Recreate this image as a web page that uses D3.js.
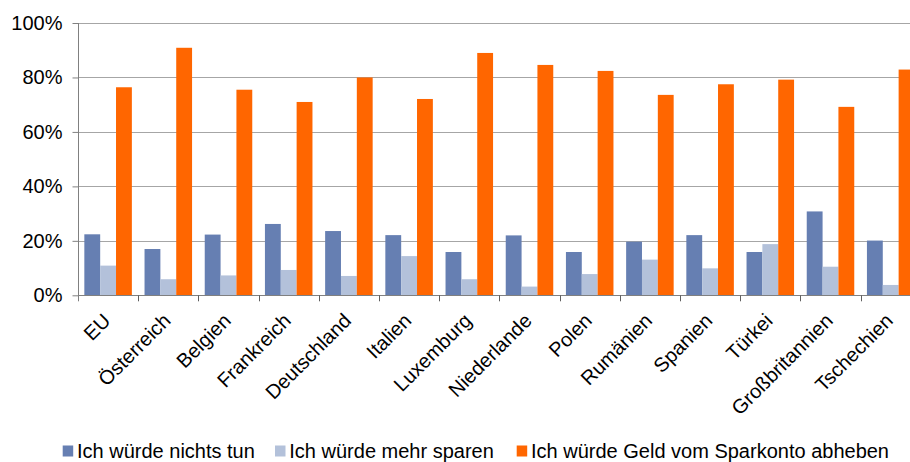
<!DOCTYPE html>
<html>
<head>
<meta charset="utf-8">
<script src="https://cdn.jsdelivr.net/npm/d3@7"></script>
<style>
  html, body { margin: 0; padding: 0; background: #fff; }
  svg { display: block; }
  text { font-family: "Liberation Sans", Arial, sans-serif; fill: #000; }
</style>
</head>
<body>
<svg id="chart" width="910" height="462"></svg>
<script>
const categories = ["EU", "Österreich", "Belgien", "Frankreich", "Deutschland", "Italien", "Luxemburg", "Niederlande", "Polen", "Rumänien", "Spanien", "Türkei", "Großbritannien", "Tschechien"];
const seriesNames = ["Ich würde nichts tun", "Ich würde mehr sparen", "Ich würde Geld vom Sparkonto abheben"];
const nichtsTun = [22.4, 17.0, 22.3, 26.2, 23.6, 22.1, 15.9, 22.0, 15.9, 19.7, 22.1, 15.9, 30.8, 20.1];
const mehrSparen = [10.9, 5.9, 7.3, 9.3, 7.1, 14.4, 5.9, 3.2, 7.8, 13.1, 9.9, 18.8, 10.5, 3.8];
const abheben = [76.4, 90.9, 75.5, 71.0, 80.0, 72.1, 89.0, 84.6, 82.4, 73.6, 77.5, 79.2, 69.2, 82.9];
const yTicks = [0, 20, 40, 60, 80, 100];
const colors = ["#667fb2", "#b3c1da", "#ff6600"];

const seriesValues = [nichtsTun, mehrSparen, abheben];

(function () {
const svg = d3.select("#chart");
const mLeft = 78, mRight = 920.8, mTop = 23, mBottom = 295.3;

const x0 = d3.scaleBand().domain(categories).range([mLeft, mRight]).paddingInner(0).paddingOuter(0);
const x1 = d3.scaleBand().domain(seriesNames).range([0, x0.bandwidth()]).paddingInner(0).paddingOuter(0.4);
const y = d3.scaleLinear().domain([0, 100]).range([mBottom, mTop]);

// gridlines
svg.append("g").selectAll("line").data(yTicks.filter(d => d > 0)).join("line")
  .attr("x1", mLeft).attr("x2", mRight)
  .attr("y1", d => Math.round(y(d)) + 0.5).attr("y2", d => Math.round(y(d)) + 0.5)
  .attr("stroke", "#a6a6a6").attr("stroke-width", 1);

// bars
const groups = svg.append("g").selectAll("g").data(categories).join("g")
  .attr("transform", c => `translate(${x0(c)},0)`);
groups.selectAll("rect")
  .data((c, i) => seriesNames.map((s, j) => ({ s, j, v: seriesValues[j][i] })))
  .join("rect")
  .attr("x", d => x1(d.s))
  .attr("width", x1.bandwidth())
  .attr("y", d => y(d.v))
  .attr("height", d => y(0) - y(d.v))
  .attr("fill", d => colors[d.j]);

// y axis
const yAxis = d3.axisLeft(y).tickValues(yTicks).tickFormat(d => d + "%").tickSize(6).tickPadding(10);
const gy = svg.append("g").attr("transform", `translate(${mLeft + 0.5},0)`).call(yAxis);
gy.select(".domain").remove();
gy.selectAll(".tick line").attr("stroke", "#808080");
gy.selectAll(".tick text").attr("font-size", 20).attr("font-family", "Liberation Sans, Arial, sans-serif").attr("fill", "#000");
gy.append("line").attr("x1", 0).attr("x2", 0).attr("y1", mTop).attr("y2", mBottom + 6).attr("stroke", "#808080");

// x axis
const gx = svg.append("g");
gx.append("line").attr("x1", mLeft).attr("x2", mRight)
  .attr("y1", Math.round(mBottom) + 0.5).attr("y2", Math.round(mBottom) + 0.5).attr("stroke", "#808080");
gx.selectAll("line.tk").data(categories.slice(1).concat(["__end"])).join("line").attr("class", "tk")
  .attr("x1", c => c === "__end" ? mRight : Math.round(x0(c)) + 0.5)
  .attr("x2", c => c === "__end" ? mRight : Math.round(x0(c)) + 0.5)
  .attr("y1", mBottom).attr("y2", mBottom + 6).attr("stroke", "#606060");
gx.selectAll("text").data(categories).join("text")
  .attr("transform", c => `translate(${x0(c) + x0.bandwidth() / 2 + 3.5},322) rotate(-45)`)
  .attr("text-anchor", "end")
  .attr("font-size", 20)
  .text(c => c);

// legend
const legendX = [62.7, 275, 516.7];
const lg = svg.append("g").selectAll("g").data(seriesNames).join("g")
  .attr("transform", (d, i) => `translate(${legendX[i]},0)`);
lg.append("rect").attr("x", 0).attr("y", 445.5).attr("width", 10.5).attr("height", 11)
  .attr("fill", (d, i) => colors[i]);
lg.append("text").attr("x", 14.3).attr("y", 457.5).attr("font-size", 20).text(d => d);
})();
</script>
</body>
</html>
